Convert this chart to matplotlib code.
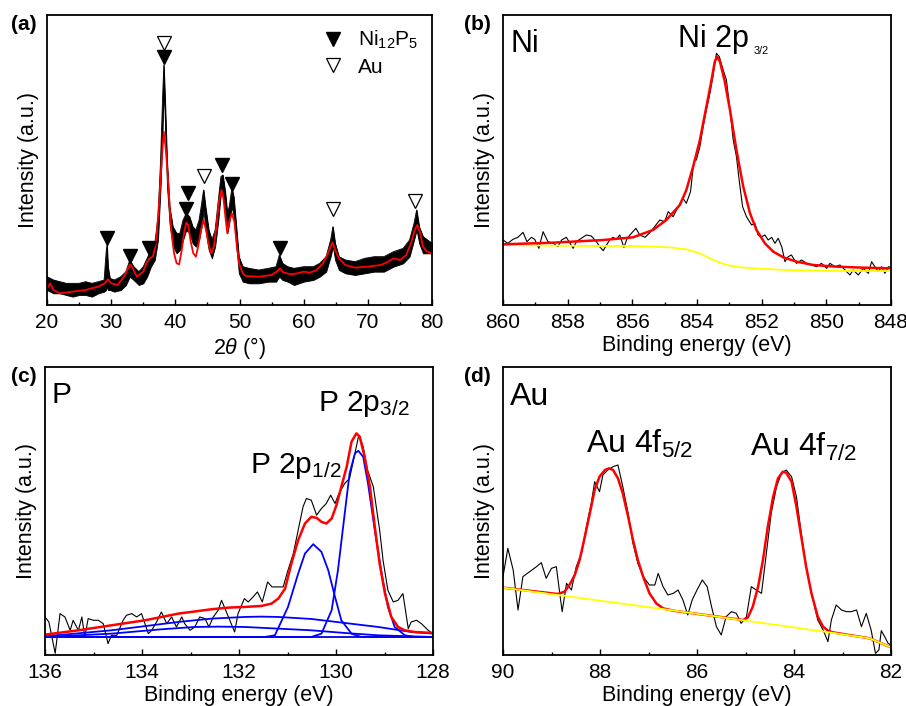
import matplotlib.pyplot as plt
from matplotlib.lines import Line2D
from matplotlib.ticker import MultipleLocator

plt.rcParams['font.family'] = ['Liberation Sans', 'DejaVu Sans']
plt.rcParams['mathtext.fontset'] = 'custom'
plt.rcParams['mathtext.rm'] = 'Liberation Sans'
plt.rcParams['mathtext.it'] = 'Liberation Sans:italic'
plt.rcParams['mathtext.bf'] = 'Liberation Sans:bold'

# ---------------- (a) XRD ----------------
xrd_2theta = [20.0, 21.0, 22.0, 23.0, 24.0, 25.0, 26.0, 27.0, 28.0, 28.9, 29.2, 29.35, 29.5, 29.8,
              30.5, 31.5, 32.3, 32.9, 33.5, 34.3, 35.0, 35.6, 36.2, 36.8, 37.3, 37.7, 38.0, 38.2,
              38.4, 38.7, 39.1, 39.6, 40.2, 40.7, 41.2, 41.7, 42.2, 42.7, 43.2, 43.7, 44.1, 44.4,
              44.7, 45.2, 45.7, 46.2, 46.7, 47.1, 47.4, 47.8, 48.1, 48.4, 48.8, 49.1, 49.5, 49.9,
              50.5, 51.5, 53.0, 54.5, 55.7, 56.2, 56.7, 57.5, 58.5, 60.0, 61.5, 62.5, 63.5, 64.2,
              64.55, 64.9, 65.5, 66.5, 68.0, 69.5, 71.0, 72.5, 74.0, 75.5, 76.5, 77.2, 77.6, 78.0,
              78.6, 79.3, 80.0]
xrd_hi = [85, 75, 70, 65, 65, 65, 70, 65, 70, 75, 155, 180, 115, 80,
          75, 85, 100, 135, 115, 100, 115, 140, 165, 185, 265, 435, 615, 720,
          615, 435, 295, 235, 215, 215, 255, 275, 265, 235, 225, 255, 305, 345,
          295, 225, 195, 225, 315, 385, 390, 335, 275, 295, 350, 325, 235, 145,
          115, 110, 105, 110, 115, 150, 125, 115, 110, 115, 115, 125, 145, 195,
          235, 185, 145, 135, 130, 140, 145, 145, 160, 170, 195, 245, 285, 235,
          205, 195, 185]
xrd_lo = [45, 35, 35, 30, 25, 30, 30, 25, 35, 40, 45, 55, 45, 45,
          40, 45, 60, 85, 75, 60, 65, 85, 115, 135, 195, 355, 515, 655,
          535, 355, 245, 175, 155, 165, 195, 225, 215, 185, 175, 195, 235, 285,
          225, 165, 140, 175, 255, 335, 335, 275, 215, 245, 295, 265, 175, 95,
          70, 65, 65, 70, 70, 85, 75, 70, 60, 70, 75, 85, 100, 145,
          175, 135, 105, 95, 90, 95, 100, 100, 115, 125, 145, 195, 225, 185,
          155, 155, 155]

fit_2theta = [20.0, 20.5, 21.0, 21.5, 22.0, 24.0, 26.0, 28.0, 29.0, 29.5, 30.0, 31.0, 32.0, 32.5,
              33.0, 33.5, 34.0, 35.0, 35.5, 36.0, 36.5, 37.0, 37.5, 37.9, 38.2, 38.5, 38.8, 39.3,
              39.8, 40.2, 40.6, 41.0, 41.4, 41.7, 42.0, 42.4, 42.8, 43.2, 43.6, 44.0, 44.4, 44.8,
              45.2, 45.6, 46.0, 46.4, 46.8, 47.2, 47.5, 47.8, 48.1, 48.4, 48.8, 49.2, 49.6, 50.0,
              50.5, 51.0, 53.0, 55.0, 55.8, 56.3, 56.8, 58.0, 59.0, 60.0, 61.0, 62.0, 63.0, 63.8,
              64.2, 64.5, 64.9, 65.5, 66.5, 68.0, 70.0, 72.0, 73.0, 74.0, 75.0, 76.0, 76.8, 77.3,
              77.7, 78.1, 78.6, 79.2, 80.0]
fit_xrd = [50, 65, 45, 40, 35, 40, 45, 55, 65, 77, 65, 60, 85, 105,
           122, 105, 85, 100, 125, 140, 145, 185, 315, 440, 520, 470, 395, 235,
           155, 125, 122, 165, 220, 247, 240, 190, 155, 145, 180, 225, 255, 225,
           180, 155, 175, 235, 310, 345, 320, 265, 215, 250, 275, 250, 175, 120,
           95, 87, 85, 90, 100, 110, 98, 92, 95, 100, 97, 105, 125, 155,
           175, 188, 165, 140, 120, 112, 115, 120, 128, 140, 135, 150, 190, 225,
           240, 220, 175, 160, 155]

ni_peaks = [29.35, 33.0, 35.9, 38.2, 41.66, 41.97, 47.2, 48.8, 56.3]
ni_mark_y = [202, 147, 170, 745, 287, 337, 420, 362, 170]
au_peaks = [38.2, 44.4, 64.5, 77.4]
au_mark_y = [785, 387, 287, 312]

# ---------------- (b) Ni 2p ----------------
ni_be = [860.00, 859.85, 859.69, 859.54, 859.38, 859.26, 859.12, 859.02, 858.89, 858.76, 858.61,
         858.45, 858.30, 858.19, 858.04, 857.94, 857.83, 857.73, 857.58, 857.42, 857.27, 857.11,
         857.01, 856.90, 856.80, 856.70, 856.60, 856.49, 856.39, 856.26, 856.16, 856.03, 855.89,
         855.77, 855.61, 855.46, 855.31, 855.15, 855.00, 854.89, 854.74, 854.58, 854.43, 854.33,
         854.20, 854.10, 854.02, 853.91, 853.81, 853.71, 853.60, 853.50, 853.40, 853.31, 853.19,
         853.09, 852.98, 852.88, 852.78, 852.69, 852.59, 852.47, 852.31, 852.21, 852.11, 852.00,
         851.90, 851.80, 851.69, 851.59, 851.49, 851.38, 851.28, 851.18, 851.08, 850.92, 850.77,
         850.61, 850.46, 850.30, 850.15, 849.99, 849.89, 849.73, 849.58, 849.42, 849.27, 849.17,
         849.01, 848.86, 848.70, 848.60, 848.50, 848.39, 848.29, 848.19, 848.08, 848.00]
ni_raw = [195, 185, 197, 203, 218, 190, 203, 197, 170, 220, 190,
          185, 175, 195, 203, 187, 170, 190, 200, 210, 207, 190,
          175, 163, 180, 195, 203, 197, 210, 173, 200, 215, 230,
          210, 203, 217, 235, 255, 250, 280, 265, 295, 320, 305,
          340, 430, 435, 475, 535, 585, 635, 690, 755, 745, 705,
          675, 585, 495, 445, 370, 295, 265, 240, 245, 210, 205,
          210, 195, 203, 185, 200, 175, 130, 145, 150, 125, 135,
          125, 120, 115, 125, 110, 125, 115, 120, 105, 90, 105,
          90, 110, 95, 130, 115, 100, 115, 95, 115, 112]
ni_fit_be = [860.00, 858.45, 856.90, 855.98, 855.36, 854.95, 854.53, 854.33, 854.12, 853.91,
             853.71, 853.55, 853.45, 853.38, 853.29, 853.14, 852.98, 852.78, 852.57, 852.36,
             852.16, 851.90, 851.64, 851.33, 850.92, 850.40, 849.68, 848.86, 848.00]
ni_fit = [182, 187, 195, 203, 225, 255, 300, 345, 415, 495,
          595, 675, 730, 745, 730, 670, 585, 465, 355, 275,
          225, 185, 160, 143, 130, 120, 115, 112, 110]
ni_bg_be = [860.00, 858.45, 856.90, 855.87, 854.84, 854.33, 853.91, 853.50, 853.09, 852.67,
            852.06, 851.23, 850.20, 849.17, 848.00]
ni_bg = [180, 178, 177, 177, 173, 167, 155, 135, 120, 113,
         109, 105, 103, 102, 102]

# ---------------- (c) P 2p ----------------
p_be = [136.00, 135.92, 135.79, 135.69, 135.59, 135.48, 135.42, 135.31, 135.24, 135.18, 135.11,
        135.00, 134.90, 134.80, 134.70, 134.63, 134.52, 134.39, 134.32, 134.21, 134.11, 134.01,
        133.87, 133.80, 133.70, 133.60, 133.49, 133.39, 133.29, 133.18, 133.12, 133.01, 132.91,
        132.81, 132.70, 132.62, 132.53, 132.43, 132.36, 132.26, 132.19, 132.09, 132.02, 131.89,
        131.81, 131.71, 131.62, 131.52, 131.41, 131.32, 131.19, 131.09, 130.99, 130.88, 130.78,
        130.68, 130.61, 130.51, 130.40, 130.30, 130.20, 130.11, 130.02, 129.94, 129.82, 129.72,
        129.61, 129.53, 129.44, 129.35, 129.23, 129.17, 129.10, 129.03, 128.93, 128.82, 128.72,
        128.62, 128.51, 128.45, 128.34, 128.24, 128.10, 128.00]
p_raw = [114, 99, 5, 124, 114, 74, 104, 74, 114, 54, 109,
         104, 104, 94, 34, 59, 59, 104, 119, 124, 114, 124,
         64, 74, 99, 129, 94, 114, 84, 114, 94, 74, 84,
         114, 109, 84, 114, 134, 164, 129, 104, 69, 124, 169,
         159, 174, 189, 159, 219, 204, 204, 204, 254, 304, 374,
         444, 469, 464, 419, 439, 454, 479, 454, 484, 514, 529,
         604, 659, 624, 554, 504, 444, 374, 284, 194, 159, 164,
         184, 79, 99, 104, 94, 74, 64]
p_fit_be = [136.00, 135.31, 134.63, 133.94, 133.25, 132.57, 132.22, 131.88, 131.54, 131.33,
            131.19, 131.05, 130.92, 130.78, 130.64, 130.51, 130.40, 130.30, 130.20, 130.09,
            129.99, 129.89, 129.78, 129.68, 129.58, 129.51, 129.41, 129.30, 129.20, 129.10,
            128.99, 128.86, 128.72, 128.58, 128.38, 128.00]
p_fit = [61, 74, 89, 104, 124, 137, 142, 144, 147, 154,
         169, 199, 274, 344, 394, 414, 411, 399, 394, 409,
         449, 504, 564, 639, 664, 654, 594, 504, 384, 274,
         184, 114, 84, 74, 69, 66]
p_base_be = [136.0, 128.0]
p_base = [54, 54]
p_broad1_be = [136.00, 134.63, 133.25, 132.57, 131.88, 131.54, 131.19, 130.51, 129.82, 129.13, 128.45, 128.00]
p_broad1 = [56, 74, 99, 109, 114, 115, 114, 108, 96, 84, 69, 64]
p_broad2_be = [136.00, 134.63, 133.60, 132.91, 132.43, 131.88, 131.19, 130.51, 129.82, 129.13, 128.45, 128.00]
p_broad2 = [54, 64, 77, 84, 85, 84, 79, 74, 66, 59, 56, 54]
p12_be = [136.0, 131.47, 131.26, 130.99, 130.78, 130.64, 130.47, 130.30, 130.16, 130.02, 129.89, 129.68, 129.48, 128.0]
p12 = [54, 54, 59, 144, 244, 304, 332, 309, 254, 174, 104, 64, 54, 54]
p32_be = [136.0, 130.51, 130.30, 130.09, 129.96, 129.82, 129.72, 129.61, 129.54, 129.44, 129.34,
          129.20, 129.06, 128.93, 128.79, 128.58, 128.38, 128.0]
p32 = [54, 54, 64, 134, 254, 424, 544, 604, 612, 594, 514,
       374, 244, 144, 84, 59, 54, 54]
p_bg_be = [130.6, 129.5]
p_bg = [53, 53]

# ---------------- (d) Au 4f ----------------
au_be = [90.00, 89.90, 89.79, 89.69, 89.59, 89.45, 89.31, 89.21, 89.11, 89.00, 88.90, 88.83,
         88.78, 88.69, 88.59, 88.49, 88.38, 88.28, 88.18, 88.11, 88.01, 87.94, 87.84, 87.73,
         87.63, 87.53, 87.42, 87.32, 87.22, 87.11, 86.98, 86.87, 86.80, 86.70, 86.60, 86.49,
         86.39, 86.29, 86.19, 86.10, 86.00, 85.89, 85.79, 85.70, 85.60, 85.50, 85.40, 85.29,
         85.19, 85.09, 84.98, 84.88, 84.78, 84.67, 84.57, 84.47, 84.36, 84.26, 84.16, 84.05,
         83.95, 83.85, 83.75, 83.64, 83.51, 83.40, 83.30, 83.23, 83.13, 83.02, 82.92, 82.82,
         82.71, 82.61, 82.51, 82.41, 82.32, 82.25, 82.20, 82.13, 82.06, 82.00]
au_raw = [235, 320, 255, 135, 235, 250, 265, 277, 230, 260, 265, 185,
          130, 215, 195, 265, 305, 385, 455, 520, 490, 540, 555, 565,
          570, 505, 425, 335, 275, 235, 210, 210, 245, 205, 180, 185,
          195, 165, 120, 165, 195, 225, 205, 145, 85, 60, 115, 130,
          125, 95, 115, 205, 195, 185, 305, 425, 505, 545, 555, 535,
          475, 365, 265, 185, 105, 75, 40, 105, 150, 135, 130, 130,
          135, 85, 125, 75, 5, 15, 73, 55, 35, 30]
au_fit_be = [90.00, 88.87, 88.73, 88.63, 88.52, 88.42, 88.32, 88.21, 88.11, 88.01, 87.90, 87.81,
             87.73, 87.63, 87.53, 87.42, 87.32, 87.22, 87.11, 86.98, 86.84, 86.70, 86.49, 85.05,
             84.95, 84.85, 84.74, 84.64, 84.54, 84.43, 84.33, 84.23, 84.16, 84.05, 83.95, 83.85,
             83.75, 83.64, 83.51, 83.40, 83.30, 83.20, 82.44, 82.00]
au_fit = [202, 183, 190, 210, 240, 285, 350, 425, 495, 535, 555, 560,
          555, 530, 485, 415, 345, 285, 235, 185, 155, 140, 133, 105,
          113, 145, 205, 285, 385, 475, 530, 550, 547, 520, 445, 355,
          265, 185, 115, 85, 73, 68, 50, 23]
au_bg_be = [90.00, 86.56, 83.13, 82.44, 82.00]
au_bg = [202, 135, 65, 50, 23]

# ---------------- figure ----------------
fig = plt.figure(figsize=(9.06, 7.06), dpi=100)
W, H = 906, 706


def make_ax(x0, y0, x1, y1):
    return fig.add_axes([x0 / W, 1 - y1 / H, (x1 - x0) / W, (y1 - y0) / H])


def style(ax, xlim, ylim, major, minor, xlabel):
    ax.set_xlim(*xlim)
    ax.set_ylim(*ylim)
    ax.set_yticks([])
    ax.xaxis.set_major_locator(MultipleLocator(major))
    ax.xaxis.set_minor_locator(MultipleLocator(minor))
    ax.tick_params(axis='x', which='major', direction='in', length=4, width=1,
                   labelsize=15, pad=6)
    ax.tick_params(axis='x', which='minor', direction='in', length=2.2, width=1)
    for s in ax.spines.values():
        s.set_linewidth(1.3)
    ax.set_xlabel(xlabel, fontsize=15.5, labelpad=2)
    ax.set_ylabel('Intensity (a.u.)', fontsize=15.5, labelpad=6)


ax_a = make_ax(47, 15, 432, 305)
ax_b = make_ax(503, 15, 891, 305)
ax_c = make_ax(45, 367, 433, 655)
ax_d = make_ax(503, 367, 891, 655)

# (a)
ax_a.fill_between(xrd_2theta, xrd_lo, xrd_hi, color='black', lw=0.6)
ax_a.plot(xrd_2theta, xrd_hi, color='black', lw=0.6)
ax_a.plot(fit_2theta, fit_xrd, color='red', lw=1.3)
ax_a.plot(ni_peaks, ni_mark_y, ls='none', marker='v', ms=9.5, color='black')
ax_a.plot(au_peaks, au_mark_y, ls='none', marker='v', ms=9.5, mfc='white', mec='black', mew=0.9)
style(ax_a, (20, 80), (0, 870), 10, 5, r'2$\theta$ (°)')
handles = [Line2D([], [], ls='none', marker='v', ms=9.5, color='black'),
           Line2D([], [], ls='none', marker='v', ms=9.5, mfc='white', mec='black', mew=0.9)]
ax_a.legend(handles, [r'Ni$_{12}$P$_5$', 'Au'], loc='upper right', frameon=False,
            fontsize=15, handlelength=1.0, handletextpad=0.7, labelspacing=0.3,
            borderaxespad=0.27)

# (b)
ax_b.plot(ni_be, ni_raw, color='black', lw=0.8)
ax_b.plot(ni_bg_be, ni_bg, color='#ffff00', lw=1.3)
ax_b.plot(ni_fit_be, ni_fit, color='red', lw=1.8)
style(ax_b, (860, 848), (0, 870), 2, 1, 'Binding energy (eV)')
ax_b.text(0.02, 0.872, 'Ni', transform=ax_b.transAxes, fontsize=22, va='baseline')
ax_b.text(0.451, 0.890, 'Ni 2p', transform=ax_b.transAxes, fontsize=22, va='baseline')
ax_b.text(0.645, 0.866, '3/2', transform=ax_b.transAxes, fontsize=7.8, va='baseline')

# (c)
ax_c.plot(p_be, p_raw, color='black', lw=0.8)
ax_c.plot(p_bg_be, p_bg, color='#ffff00', lw=1.5)
for bx, by in [(p_base_be, p_base), (p_broad1_be, p_broad1), (p_broad2_be, p_broad2),
               (p12_be, p12), (p32_be, p32)]:
    ax_c.plot(bx, by, color='#0000ff', lw=1.3)
ax_c.plot(p_fit_be, p_fit, color='red', lw=1.8)
style(ax_c, (136, 128), (0, 863), 2, 1, 'Binding energy (eV)')
ax_c.text(0.018, 0.875, 'P', transform=ax_c.transAxes, fontsize=21.5, va='baseline')
ax_c.text(0.704, 0.847, r'P 2p$_{3/2}$', transform=ax_c.transAxes, fontsize=21.5, va='baseline')
ax_c.text(0.528, 0.632, r'P 2p$_{1/2}$', transform=ax_c.transAxes, fontsize=21.5, va='baseline')

# (d)
ax_d.plot(au_be, au_raw, color='black', lw=0.8)
ax_d.plot(au_fit_be, au_fit, color='red', lw=1.8)
ax_d.plot(au_bg_be, au_bg, color='#ffff00', lw=1.3)
style(ax_d, (90, 82), (0, 864), 2, 1, 'Binding energy (eV)')
ax_d.text(0.018, 0.868, 'Au', transform=ax_d.transAxes, fontsize=23, va='baseline')
ax_d.text(0.214, 0.701, r'Au 4f$_{5/2}$', transform=ax_d.transAxes, fontsize=23, va='baseline')
ax_d.text(0.637, 0.691, r'Au 4f$_{7/2}$', transform=ax_d.transAxes, fontsize=23, va='baseline')

# panel letters
for lab, px, py in [('(a)', 11, 25), ('(b)', 464, 25), ('(c)', 11, 376), ('(d)', 464, 376)]:
    fig.text(px / W, 1 - py / H, lab, fontsize=15, fontweight='bold', va='center', ha='left')

fig.savefig('out.png', dpi=100)
